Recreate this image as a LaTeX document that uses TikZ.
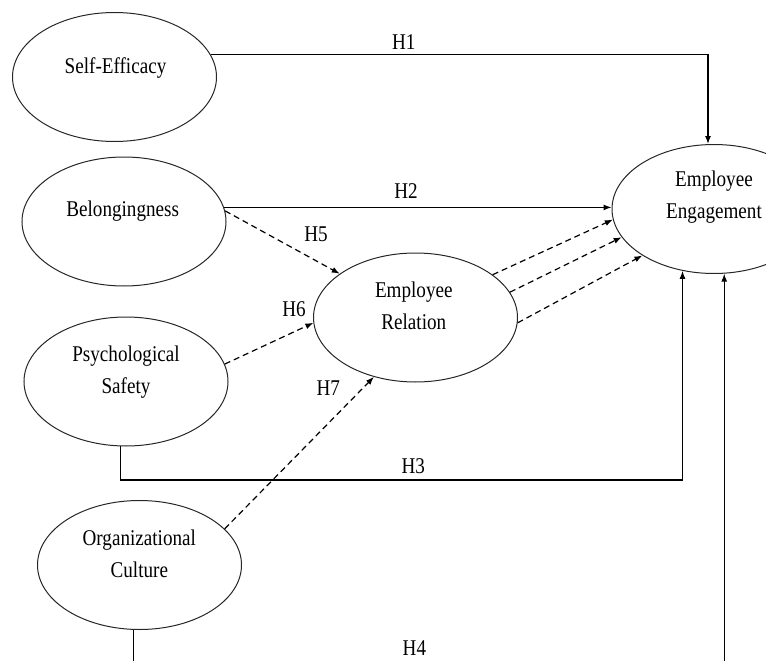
\documentclass[tikz,border=0pt]{standalone}
\usepackage{fontspec}
\setmainfont{Liberation Serif}[FakeStretch=0.85]
\usetikzlibrary{arrows.meta,shapes.geometric}
\begin{document}
\begin{tikzpicture}[x=1pt,y=-1pt,
  ell/.style={draw=black!85, ellipse, minimum width=204pt, minimum height=129pt, inner sep=0pt, line width=1pt},
  lbl/.style={anchor=base, inner sep=0pt, font=\fontsize{22.5}{32}\selectfont, align=center},
  arr/.style={line width=1.2pt, -{Latex[length=8pt,width=6pt]}},
  darr/.style={arr, dash pattern=on 6pt off 4pt}]
\useasboundingbox (0,0) rectangle (766,661);
\clip (0,0) rectangle (766,661);

% ellipses
\node[ell] (se)  at (114.5,77)    {};
\node[ell] (bel) at (124,221.5)   {};
\node[ell] (ps)  at (126,381.5)   {};
\node[ell] (oc)  at (139.5,565)   {};
\node[ell] (er)  at (415.5,317.5) {};
\node[ell] (ee)  at (714,209)     {};

% ellipse texts (base = baseline of the last line)
\node[lbl] (set)  at (115.5,73.3)  {Self-Efficacy};
\node[lbl] (belt) at (122.7,216.7) {Belongingness};
\node[lbl] (pst)  at (126,393.3)   {Psychological\\Safety};
\node[lbl] (oct)  at (139.3,577.3) {Organizational\\Culture};
\node[lbl] (ert)  at (413.8,329)   {Employee\\Relation};
\node[lbl] (eet)  at (714,218.3)   {Employee\\Engagement};

% direct paths
\draw[arr] (se.13.4) -| ([xshift=-6pt]ee.north);
\draw[arr] (bel.8.1) -- (bel.8.1 -| ee.west);
\draw[arr] (ps.265) -- ++(0,33.5) -| (ee.243.5);
\draw[arr] (oc.265) -- ++(0,60) -| (ee.279);

% mediated paths
\draw[darr] (bel.6)  -- (er.150);
\draw[darr] (ps.10.5) -- (er.183);
\draw[darr] (oc.23)  -- (er.235);
\draw[darr] (er.29)  -- (ee.186);
\draw[darr] (er.15)  -- (ee.197.5);
\draw[darr] (er.357) -- (ee.213.5);

% hypothesis labels
\node[lbl] (h1) at (403.7,49.3)  {H1};
\node[lbl] (h2) at (406,198.5)   {H2};
\node[lbl] (h5) at (316,241.7)   {H5};
\node[lbl] (h6) at (294,316)     {H6};
\node[lbl] (h7) at (328.3,395)   {H7};
\node[lbl] (h3) at (413.3,473.3) {H3};
\node[lbl] (h4) at (414.4,655)   {H4};
\end{tikzpicture}
\end{document}
